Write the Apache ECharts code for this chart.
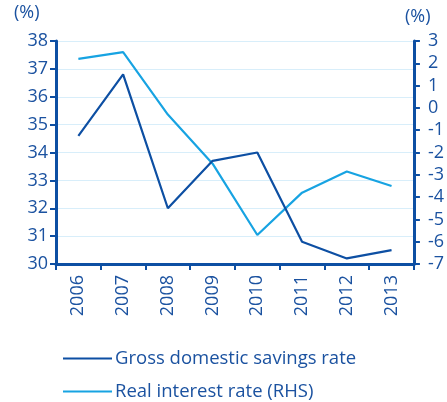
<!DOCTYPE html>
<html>
<head>
<meta charset="utf-8">
<script src="https://cdn.jsdelivr.net/npm/echarts@6/dist/echarts.min.js"></script>
<style>html,body{margin:0;padding:0;background:#fff}#c{width:447px;height:402px}</style>
</head>
<body>
<div id="c"></div>
<script>
const years = ['2006','2007','2008','2009','2010','2011','2012','2013'];
const savingsRate = [34.6, 36.8, 32.0, 33.7, 34.0, 30.8, 30.2, 30.5];
const realInterest = [2.2, 2.5, -0.3, -2.5, -5.7, -3.8, -2.85, -3.5];
const leftTicks = [30, 31, 32, 33, 34, 35, 36, 37, 38];
const rightTicks = [-7, -6, -5, -4, -3, -2, -1, 0, 1, 2, 3];
const names = ['Gross domestic savings rate', 'Real interest rate (RHS)'];

const DARK = '#0d4fa3';
const LIGHT = '#17a3e2';
const TXT = '#1b52a0';
const FONT = '"Open Sans", sans-serif';

function legendFor(name, top) {
  return {
    orient: 'horizontal', left: 58, top: top, itemWidth: 49, itemHeight: 10,
    icon: 'path://M0,4L49,4L49,6L0,6Z',
    textStyle: {color: TXT, fontSize: 18.5, fontFamily: FONT, padding: [0, 0, 0, -2]},
    data: [name]
  };
}

const chart = echarts.init(document.getElementById('c'), null, {renderer: 'canvas'});
chart.setOption({
  animation: false,
  grid: {left: 56, right: 31, top: 41, bottom: 138, containLabel: false},
  graphic: [
    {type: 'text', left: 14, top: 4, style: {text: '(%)', fill: TXT, font: '18px ' + FONT}},
    {type: 'text', left: 405, top: 8, style: {text: '(%)', fill: TXT, font: '18px ' + FONT}}
  ],
  legend: [legendFor(names[0], 344), legendFor(names[1], 377)],
  xAxis: {
    type: 'category', data: years, boundaryGap: true,
    axisLine: {onZero: false, lineStyle: {color: DARK, width: 3}},
    axisTick: {show: true, length: 6, lineStyle: {color: DARK, width: 2}},
    axisLabel: {rotate: 90, color: TXT, fontSize: 18, fontFamily: FONT, margin: 11, interval: 0}
  },
  yAxis: [
    {
      type: 'value', min: leftTicks[0], max: leftTicks[leftTicks.length - 1], interval: 1,
      axisLine: {show: true, lineStyle: {color: DARK, width: 3}},
      axisTick: {show: true, length: 6, lineStyle: {color: DARK, width: 2}},
      axisLabel: {color: TXT, fontSize: 18, fontFamily: FONT, margin: 8},
      splitLine: {show: true, lineStyle: {color: '#d8eefa', width: 1}}
    },
    {
      type: 'value', min: rightTicks[0], max: rightTicks[rightTicks.length - 1], interval: 1,
      position: 'right',
      axisLine: {show: true, lineStyle: {color: DARK, width: 3}},
      axisTick: {show: true, length: 6, lineStyle: {color: DARK, width: 2}},
      axisLabel: {color: TXT, fontSize: 18, fontFamily: FONT, margin: 14},
      splitLine: {show: false}
    }
  ],
  series: [
    {name: names[0], type: 'line', yAxisIndex: 0, data: savingsRate, symbol: 'none',
     lineStyle: {color: DARK, width: 2.2}, itemStyle: {color: DARK}, z: 3},
    {name: names[1], type: 'line', yAxisIndex: 1, data: realInterest, symbol: 'none',
     lineStyle: {color: LIGHT, width: 2.2}, itemStyle: {color: LIGHT}, z: 2}
  ]
});
</script>
</body>
</html>
